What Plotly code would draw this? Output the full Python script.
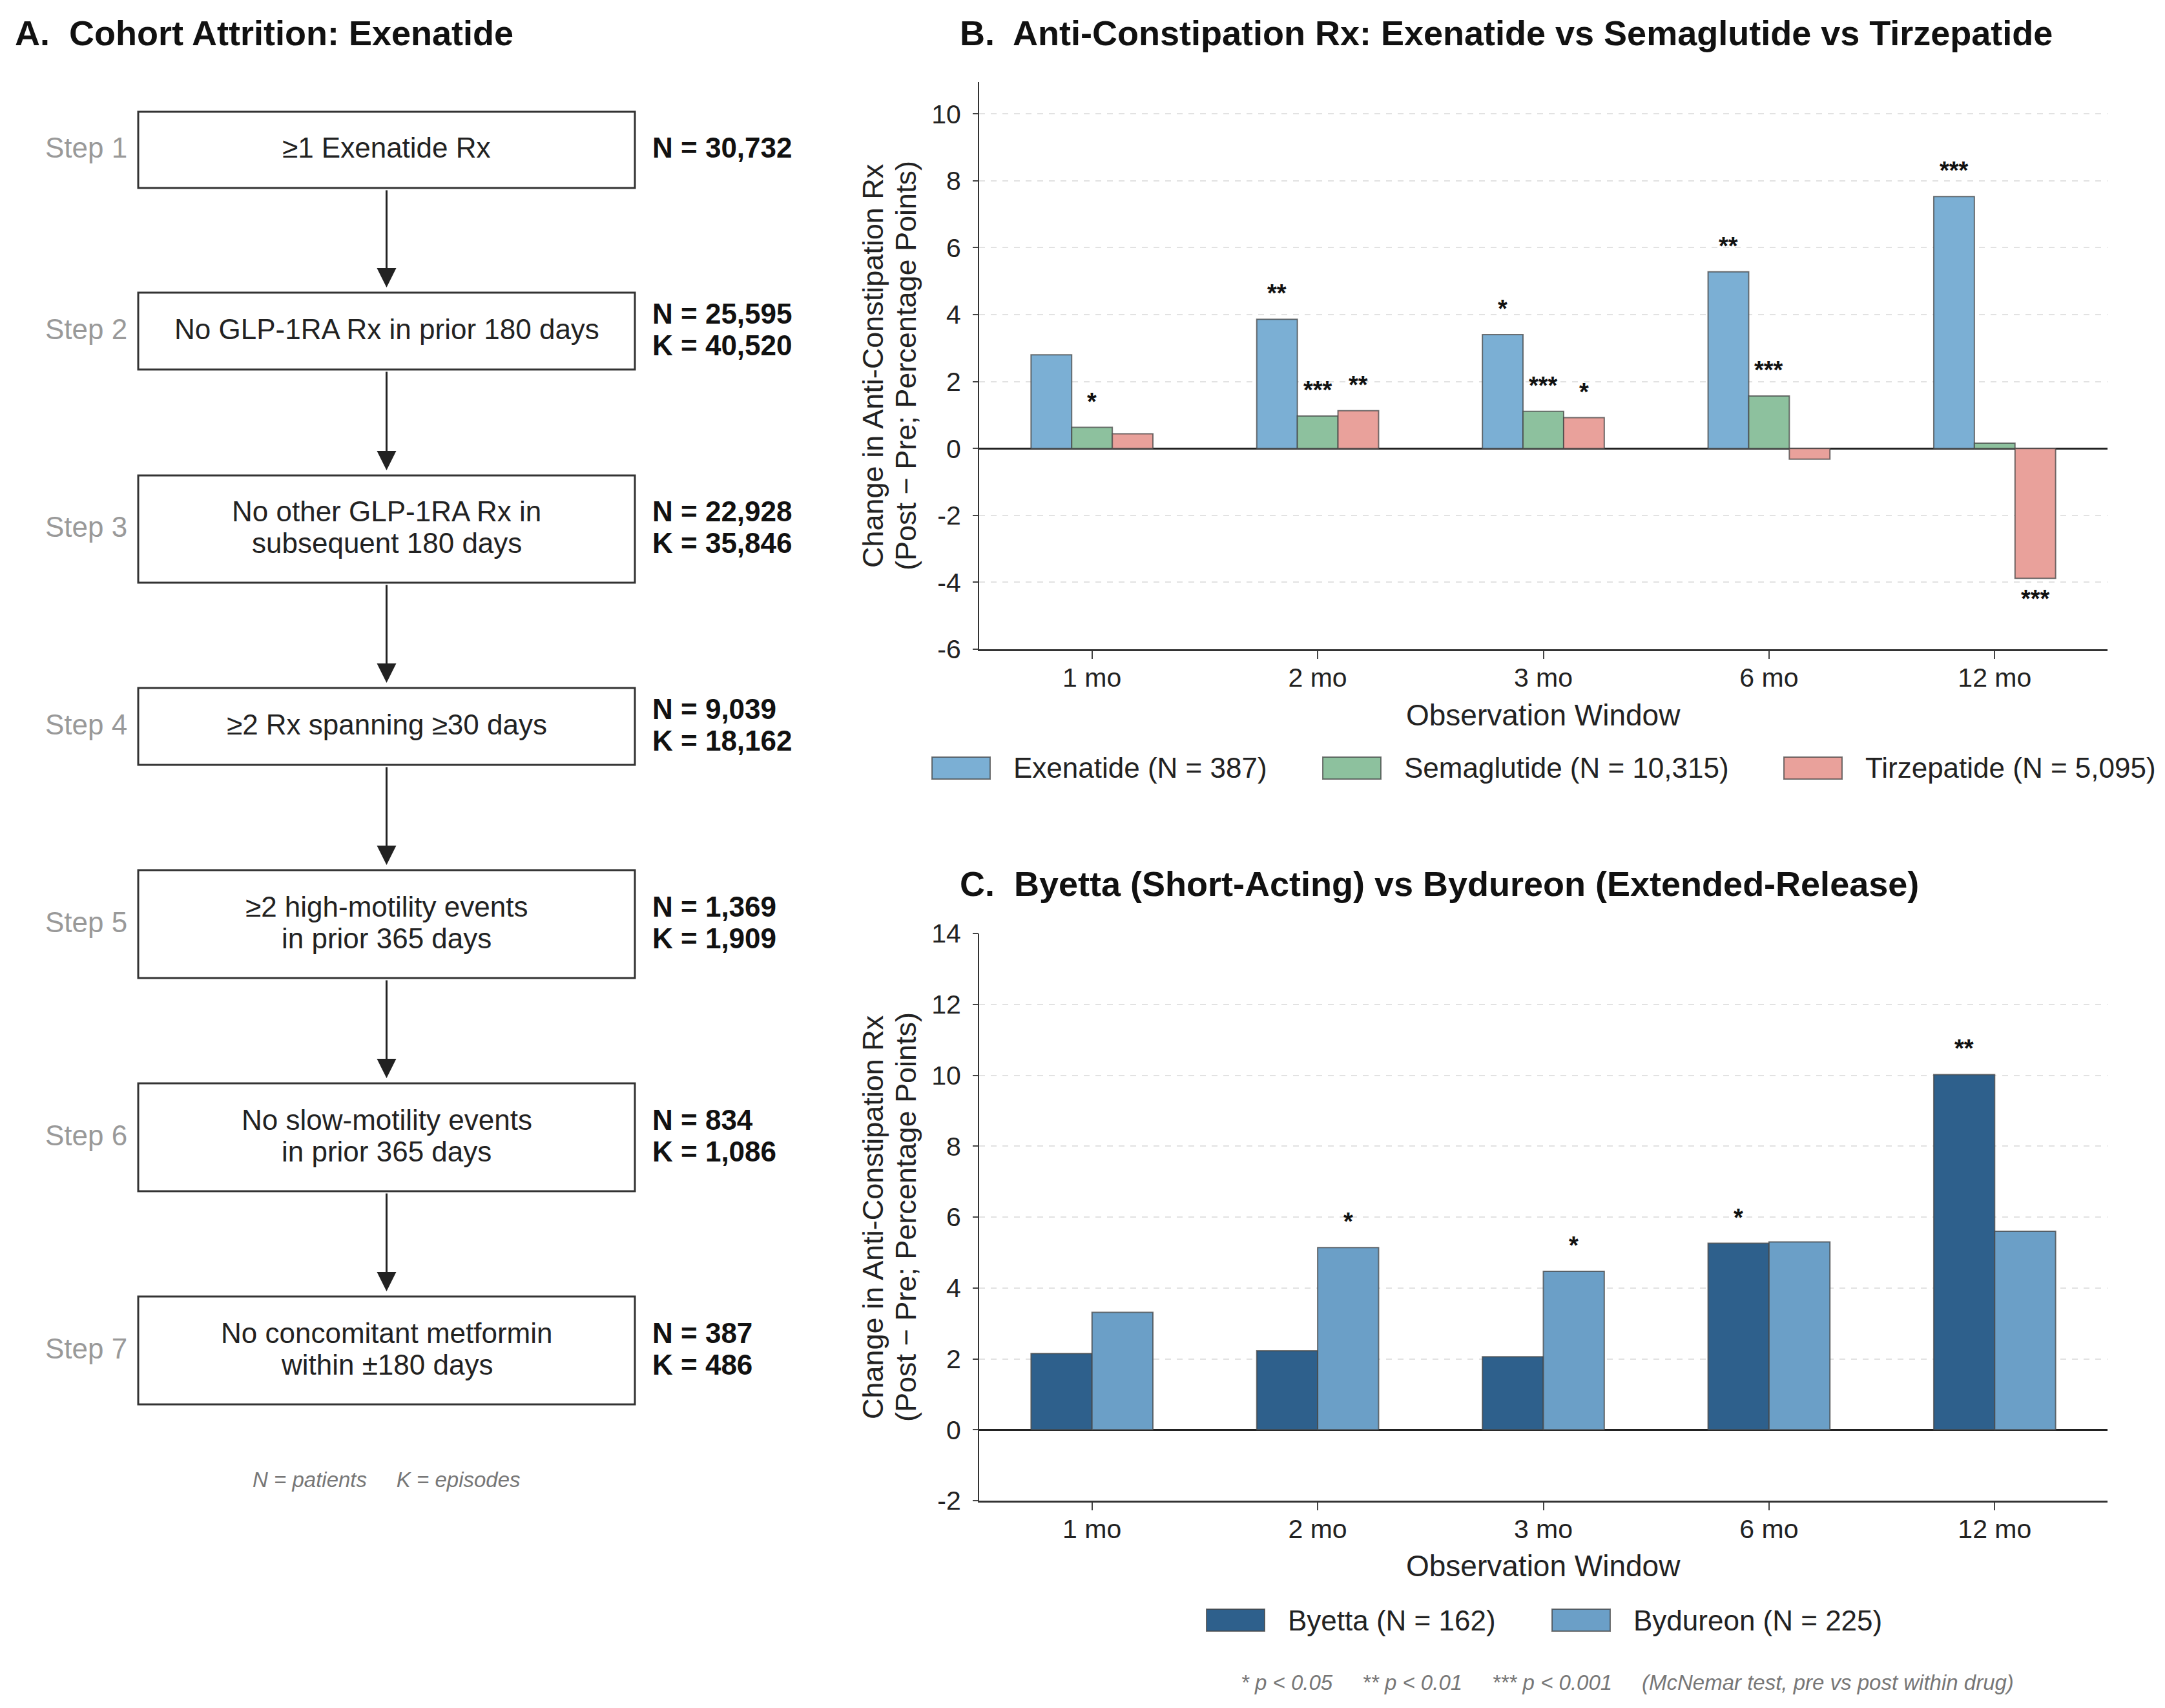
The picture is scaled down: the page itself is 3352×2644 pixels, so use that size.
import plotly.graph_objects as go

# ---------------- data ----------------
categories = ["1 mo", "2 mo", "3 mo", "6 mo", "12 mo"]

exenatide = [2.80, 3.86, 3.40, 5.28, 7.53]
semaglutide = [0.63, 0.97, 1.11, 1.57, 0.16]
tirzepatide = [0.44, 1.13, 0.92, -0.32, -3.88]
sig_exenatide = ["", "**", "*", "**", "***"]
sig_semaglutide = ["*", "***", "***", "***", ""]
sig_tirzepatide = ["", "**", "*", "", "***"]
names_b = ["Exenatide (N = 387)", "Semaglutide (N = 10,315)", "Tirzepatide (N = 5,095)"]

byetta = [2.15, 2.23, 2.06, 5.26, 10.02]
bydureon = [3.31, 5.14, 4.47, 5.30, 5.60]
sig_byetta = ["", "", "", "*", "**"]
sig_bydureon = ["", "*", "*", "", ""]
names_c = ["Byetta (N = 162)", "Bydureon (N = 225)"]

steps = ["Step 1", "Step 2", "Step 3", "Step 4", "Step 5", "Step 6", "Step 7"]
criteria = [
    ["≥1 Exenatide Rx"],
    ["No GLP-1RA Rx in prior 180 days"],
    ["No other GLP-1RA Rx in", "subsequent 180 days"],
    ["≥2 Rx spanning ≥30 days"],
    ["≥2 high-motility events", "in prior 365 days"],
    ["No slow-motility events", "in prior 365 days"],
    ["No concomitant metformin", "within ±180 days"],
]
patients = [30732, 25595, 22928, 9039, 1369, 834, 387]
episodes = [None, 40520, 35846, 18162, 1909, 1086, 486]

# ---------------- layout helpers ----------------
W, H = 3352, 2644
FONT = "Liberation Sans, Arial, sans-serif"


def px(x):
    return x / W


def py(y):
    return 1 - y / H


col_b = ["#7BAFD4", "#8DC19E", "#E9A19B"]
col_c = ["#2E608C", "#6B9FC7"]
edge = "rgba(70,70,70,0.75)"

fig = go.Figure()

x_idx = list(range(len(categories)))

# Panel B bars
wb = 0.18
offs_b = [-0.27, -0.09, 0.09]
for vals, name, c, off in zip([exenatide, semaglutide, tirzepatide], names_b, col_b, offs_b):
    fig.add_trace(go.Bar(x=x_idx, y=vals, name=name, width=wb, offset=off,
                         marker=dict(color=c, line=dict(color=edge, width=2)),
                         xaxis="x", yaxis="y", showlegend=False))

# Panel C bars
wc = 0.27
offs_c = [-0.27, 0.0]
for vals, name, c, off in zip([byetta, bydureon], names_c, col_c, offs_c):
    fig.add_trace(go.Bar(x=x_idx, y=vals, name=name, width=wc, offset=off,
                         marker=dict(color=c, line=dict(color=edge, width=2)),
                         xaxis="x2", yaxis="y2", showlegend=False))

annotations = []
shapes = []

# significance stars
def add_stars(vals, sigs, off, w, xref, yref):
    for i, (v, s) in enumerate(zip(vals, sigs)):
        if not s:
            continue
        pos = v >= 0
        annotations.append(dict(
            x=i + off + w / 2, y=v, xref=xref, yref=yref, text="<b>" + s + "</b>",
            showarrow=False,
            xanchor="center", yanchor="bottom" if pos else "top",
            yshift=17 if pos else -9,
            font=dict(family=FONT, size=38, color="#111")))

add_stars(exenatide, sig_exenatide, offs_b[0], wb, "x", "y")
add_stars(semaglutide, sig_semaglutide, offs_b[1], wb, "x", "y")
add_stars(tirzepatide, sig_tirzepatide, offs_b[2], wb, "x", "y")
add_stars(byetta, sig_byetta, offs_c[0], wc, "x2", "y2")
add_stars(bydureon, sig_bydureon, offs_c[1], wc, "x2", "y2")

# axes
x_dom = [px(1516), px(3263)]
yb_dom = [py(1005), py(127)]
yc_dom = [py(2323), py(1445)]

xcommon = dict(range=[-0.5, 4.5], tickvals=x_idx, ticktext=categories, showline=True,
               linecolor="#333", linewidth=3, ticks="outside", ticklen=12, tickwidth=2,
               tickcolor="#444", showgrid=False, zeroline=False,
               tickfont=dict(family=FONT, size=41, color="#222"), ticklabelstandoff=-6)

ycommon = dict(showline=True, linecolor="#333", linewidth=2, ticks="outside", ticklen=8,
               tickwidth=2, tickcolor="#444", showgrid=True, gridcolor="#E2E2E2",
               griddash="dash", gridwidth=2, zeroline=True, zerolinecolor="#222",
               zerolinewidth=2.5, tickfont=dict(family=FONT, size=41, color="#222"),
               ticklabelstandoff=10)

yb_ticks = list(range(-6, 11, 2))
yc_ticks = list(range(-2, 15, 2))

fig.update_layout(
    xaxis=dict(domain=x_dom, anchor="y", **xcommon),
    yaxis=dict(domain=yb_dom, anchor="x", range=[-6, 10.95], tickvals=yb_ticks,
               ticktext=[str(t) for t in yb_ticks], **ycommon),
    xaxis2=dict(domain=x_dom, anchor="y2", **xcommon),
    yaxis2=dict(domain=yc_dom, anchor="x2", range=[-2, 14], tickvals=yc_ticks,
                ticktext=[str(t) for t in yc_ticks], **ycommon),
)

# axis titles
for (ymid, xlab_y) in [((1005 + 127) / 2, 1107), ((2323 + 1445) / 2, 2424)]:
    annotations.append(dict(x=px(1351), y=py(ymid), xref="paper", yref="paper",
                            text="Change in Anti-Constipation Rx", textangle=-90, showarrow=False,
                            xanchor="center", yanchor="middle",
                            font=dict(family=FONT, size=45, color="#222")))
    annotations.append(dict(x=px(1402), y=py(ymid), xref="paper", yref="paper",
                            text="(Post − Pre; Percentage Points)", textangle=-90, showarrow=False,
                            xanchor="center", yanchor="middle",
                            font=dict(family=FONT, size=45, color="#222")))
    annotations.append(dict(x=px(2389), y=py(xlab_y), xref="paper", yref="paper",
                            text="Observation Window", showarrow=False,
                            xanchor="center", yanchor="middle",
                            font=dict(family=FONT, size=46, color="#222")))

# panel titles
for txt, x, y in [("A.  Cohort Attrition: Exenatide", 21, 51),
                  ("B.  Anti-Constipation Rx: Exenatide vs Semaglutide vs Tirzepatide", 1484, 51),
                  ("C.  Byetta (Short-Acting) vs Bydureon (Extended-Release)", 1484, 1368)]:
    annotations.append(dict(x=px(x), y=py(y), xref="paper", yref="paper", text="<b>" + txt + "</b>",
                            showarrow=False, xanchor="left", yanchor="middle",
                            font=dict(family=FONT, size=54, color="#111")))

# custom legends
def legend_item(sx, sy, color, label):
    shapes.append(dict(type="rect", xref="paper", yref="paper",
                       x0=px(sx), x1=px(sx + 90), y0=py(sy + 17), y1=py(sy - 17),
                       fillcolor=color, line=dict(color=edge, width=2)))
    annotations.append(dict(x=px(sx + 124), y=py(sy), xref="paper", yref="paper", text=label,
                            showarrow=False, xanchor="left", yanchor="middle",
                            font=dict(family=FONT, size=44, color="#222")))

for sx, c, lab in zip([1443, 2048, 2762], col_b, names_b):
    legend_item(sx, 1189, c, lab)
for sx, c, lab in zip([1868, 2403], col_c, names_c):
    legend_item(sx, 2508, c, lab)

annotations.append(dict(x=px(2519), y=py(2604), xref="paper", yref="paper",
                        text="<i>* p < 0.05     ** p < 0.01     *** p < 0.001     (McNemar test, pre vs post within drug)</i>",
                        showarrow=False, xanchor="center", yanchor="middle",
                        font=dict(family=FONT, size=33, color="#777")))

# ---------------- Panel A flowchart ----------------
box_x0, box_x1 = 214, 983
box_top = [173, 453, 736, 1065, 1347, 1677, 2007]
box_bot = [291, 572, 902, 1184, 1514, 1844, 2174]
line_gap = 49
xc = (box_x0 + box_x1) / 2

for i in range(len(steps)):
    t, b = box_top[i], box_bot[i]
    cy = (t + b) / 2
    shapes.append(dict(type="rect", xref="paper", yref="paper",
                       x0=px(box_x0), x1=px(box_x1), y0=py(b), y1=py(t),
                       fillcolor="white", line=dict(color="#333", width=3)))
    lines = criteria[i]
    n = len(lines)
    for k, ln in enumerate(lines):
        yy = cy + (k - (n - 1) / 2) * line_gap
        annotations.append(dict(x=px(xc), y=py(yy), xref="paper", yref="paper", text=ln,
                                showarrow=False, xanchor="center", yanchor="middle", yshift=3,
                                font=dict(family=FONT, size=44, color="#222")))
    annotations.append(dict(x=px(199), y=py(cy), xref="paper", yref="paper", text=steps[i],
                            showarrow=False, xanchor="right", yanchor="middle", yshift=3,
                            font=dict(family=FONT, size=44, color="#999")))
    nk = [f"N = {patients[i]:,}"]
    if episodes[i] is not None:
        nk.append(f"K = {episodes[i]:,}")
    m = len(nk)
    for k, ln in enumerate(nk):
        yy = cy + (k - (m - 1) / 2) * line_gap
        annotations.append(dict(x=px(1008), y=py(yy), xref="paper", yref="paper",
                                text="<b>" + ln + "</b>", showarrow=False,
                                xanchor="left", yanchor="middle", yshift=3,
                                font=dict(family=FONT, size=44, color="#111")))
    if i < len(steps) - 1:
        head = box_top[i + 1] - 8
        tail = b + 2
        annotations.append(dict(x=px(xc), y=py(head), xref="paper", yref="paper", text="",
                                showarrow=True, ax=0, ay=tail - head, axref="pixel", ayref="pixel",
                                arrowhead=2, arrowsize=2, arrowwidth=3, arrowcolor="#222",
                                standoff=0, startstandoff=0))

annotations.append(dict(x=px(598), y=py(2290), xref="paper", yref="paper",
                        text="<i>N = patients     K = episodes</i>", showarrow=False,
                        xanchor="center", yanchor="middle",
                        font=dict(family=FONT, size=33, color="#777")))

fig.update_layout(
    width=W, height=H, autosize=False,
    margin=dict(l=0, r=0, t=0, b=0, autoexpand=False),
    paper_bgcolor="white", plot_bgcolor="white",
    barmode="overlay", showlegend=False,
    annotations=annotations, shapes=shapes,
    font=dict(family=FONT, color="#222"),
)

fig.write_html("out.html")
